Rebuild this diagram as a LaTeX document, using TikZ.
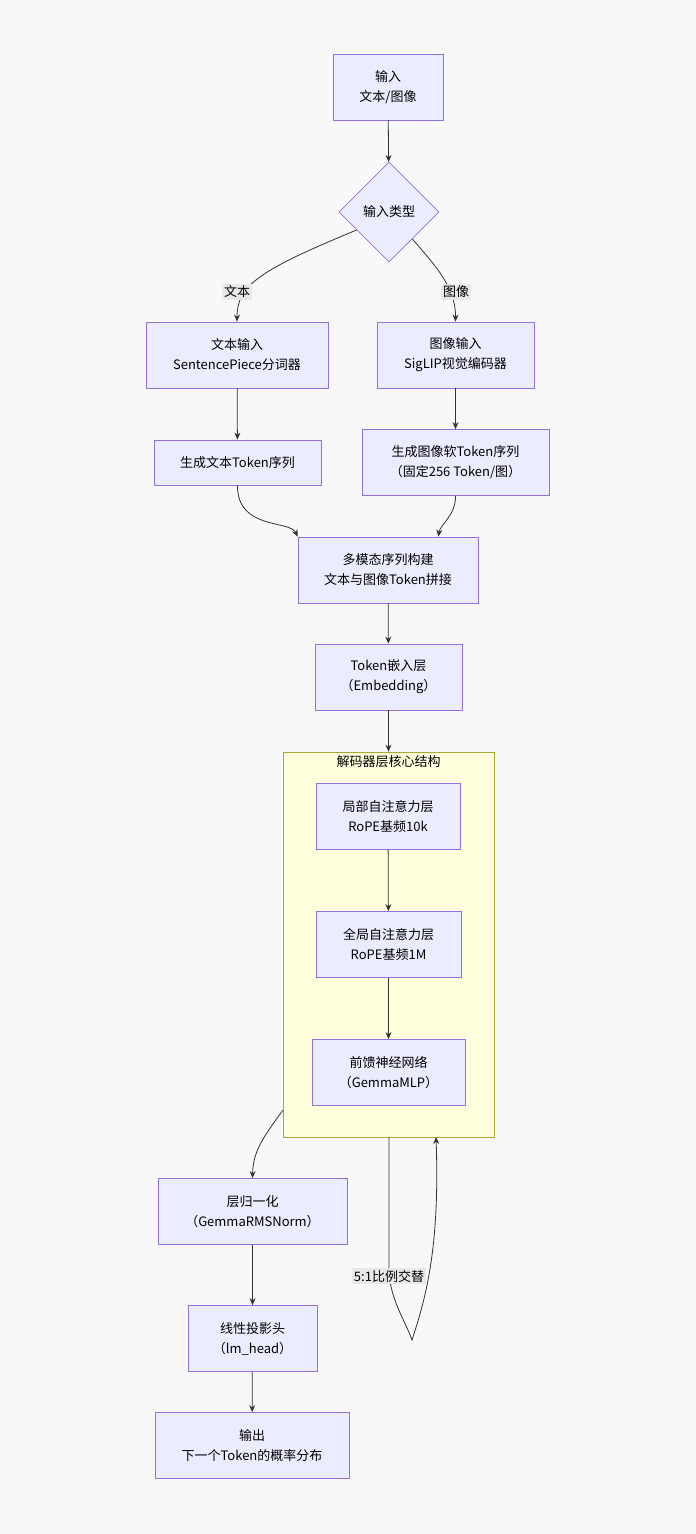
\documentclass[tikz,border=0pt]{standalone}
\usepackage{fontspec}
\setmainfont{Noto Sans CJK SC}
\usetikzlibrary{shapes.geometric,arrows.meta,positioning}
\definecolor{boxfill}{HTML}{ECECFF}
\definecolor{boxline}{HTML}{9370DB}
\definecolor{clfill}{HTML}{FFFFDE}
\definecolor{clline}{HTML}{AAAA33}
\definecolor{edge}{HTML}{333333}
\definecolor{lblbg}{HTML}{E8E8E8}
\tikzset{
  box/.style={draw=boxline, fill=boxfill, line width=0.8pt, align=center,
    minimum height=66pt, inner sep=2pt, font=\fontsize{13}{20}\selectfont},
  dec/.style={draw=boxline, fill=boxfill, line width=0.8pt, diamond, aspect=1,
    minimum width=100pt, minimum height=100pt, inner sep=0pt, font=\fontsize{13}{16}\selectfont},
  arr/.style={draw=edge, line width=0.8pt, -{Stealth[length=7pt,width=6pt]}},
  lbl/.style={fill=lblbg, inner sep=2pt, font=\fontsize{13}{16}\selectfont}
}
\begin{document}
\begin{tikzpicture}[x=1pt,y=-1pt]
    \useasboundingbox [fill={rgb,255:red,248;green,248;blue,248}] (0,0) rectangle (696,1534);
    % decoder cluster
    \node [draw=clline, fill=clfill, line width=0.8pt, minimum width=211pt, minimum height=385pt,
      inner sep=0pt] (decoder) at (388.5,944.5) {};
    \node [font=\fontsize{13}{16}\selectfont] (declabel) at (388.5,762) {解码器层核心结构};
    % nodes
    \node [box, minimum width=110pt] (input) at (388,87) {输入\\文本/图像};
    \node [dec] (type) at (389,212) {输入类型};
    \node [box, minimum width=182pt] (textin) at (237,355) {文本输入\\SentencePiece分词器};
    \node [box, minimum width=157pt] (imgin) at (455.5,355) {图像输入\\SigLIP视觉编码器};
    \node [box, minimum width=167pt, minimum height=45pt] (texttok) at (237.5,462.5) {生成文本Token序列};
    \node [box, minimum width=187pt] (imgtok) at (455.5,462.5) {生成图像软Token序列\\（固定256 Token/图）};
    \node [box, minimum width=180pt] (multi) at (388,570) {多模态序列构建\\文本与图像Token拼接};
    \node [box, minimum width=147pt] (embed) at (388.5,677) {Token嵌入层\\（Embedding）};
    \node [box, minimum width=144pt] (local) at (388,816.5) {局部自注意力层\\RoPE基频10k};
    \node [box, minimum width=145pt] (global) at (388.5,944.5) {全局自注意力层\\RoPE基频1M};
    \node [box, minimum width=153pt] (ffn) at (388.5,1072.5) {前馈神经网络\\（GemmaMLP）};
    \node [box, minimum width=189pt] (norm) at (252.5,1211.5) {层归一化\\（GemmaRMSNorm）};
    \node [box, minimum width=129pt] (head) at (252.5,1338.5) {线性投影头\\（lm\_head）};
    \node [box, minimum width=194pt] (output) at (252,1445.5) {输出\\下一个Token的概率分布};
    % connectors
    \draw [arr] (input) -- (type);
    \draw [arr] (type.west) ++(18,18) coordinate (tl)
      (tl) .. controls (260,270) and (237,285) .. (textin.north);
    \draw [arr] (type.east) ++(-27,27) coordinate (tr)
      (tr) .. controls (430,260) and (456,285) .. (imgin.north);
    \node [lbl] (lbltext) at (237,292) {文本};
    \node [lbl] (lblimg) at (456,292) {图像};
    \draw [arr] (textin) -- (texttok);
    \draw [arr] (imgin) -- (imgtok);
    \draw [arr] (texttok.south) .. controls (237,530) and (290,520) .. (multi.north west);
    \draw [arr] (imgtok.south) .. controls (456,515) and (440,525) .. ([xshift=-40pt]multi.north east);
    \draw [arr] (multi) -- (embed);
    \draw [arr] (embed) -- (decoder.north);
    \draw [arr] (local) -- (global);
    \draw [arr] (global) -- (ffn);
    \coordinate (loopout) at (389,1137);
    \coordinate (loopin) at (436,1137);
    \coordinate (loopbot) at (412,1340);
    \draw [arr] (loopout) -- (389,1270) .. controls (390,1300) and (405,1320) .. (loopbot)
      .. controls (425,1300) and (440,1250) .. (loopin);
    \node [lbl] (lblloop) at (389,1276) {5:1比例交替};
    \coordinate (clout) at (283,1110);
    \draw [arr] (clout) .. controls (265,1135) and (253,1150) .. (norm.north);
    \draw [arr] (norm) -- (head);
    \draw [arr] (head) -- (output);
\end{tikzpicture}
\end{document}
